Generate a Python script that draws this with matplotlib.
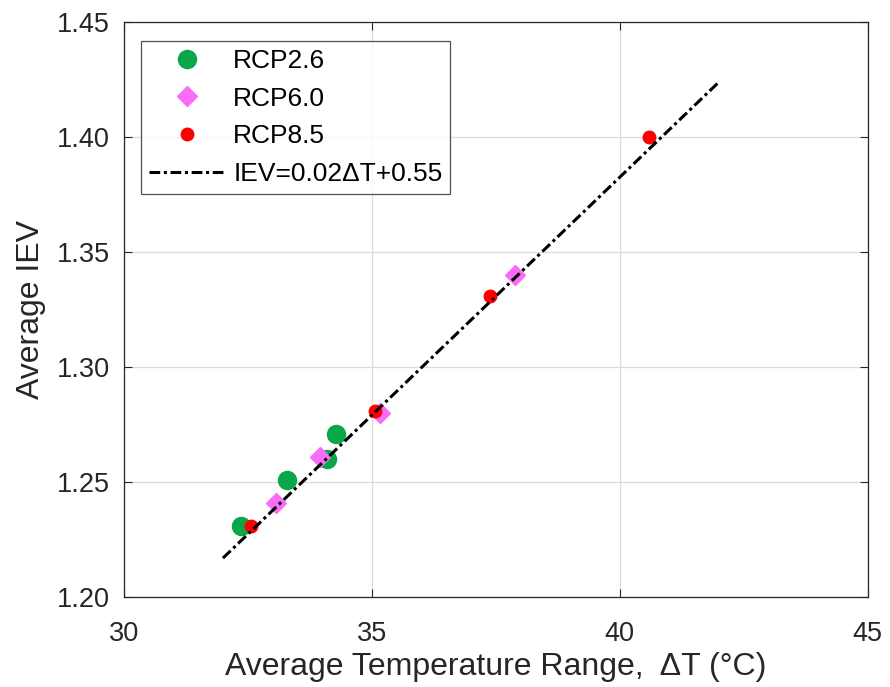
import matplotlib
matplotlib.use("Agg")
import matplotlib.pyplot as plt
import numpy as np

plt.rcParams['font.family'] = ['Liberation Sans', 'DejaVu Sans']

rcp26_x = [32.37, 33.29, 34.09, 34.27]
rcp26_y = [1.231, 1.251, 1.260, 1.271]
rcp60_x = [33.07, 33.96, 35.16, 37.88]
rcp60_y = [1.241, 1.261, 1.280, 1.340]
rcp85_x = [32.57, 35.07, 37.38, 40.59]
rcp85_y = [1.231, 1.281, 1.331, 1.400]
fit_x = [32.0, 42.0]
fit_slope = 0.0207
fit_intercept = 0.5545
xticks = [30, 35, 40, 45]
yticks = [1.20, 1.25, 1.30, 1.35, 1.40, 1.45]

fig = plt.figure(figsize=(8.9, 6.87), dpi=100)
ax = fig.add_axes([0.139, 0.131, 0.836, 0.837])

ax.plot(rcp26_x, rcp26_y, 'o', color='#0aa64a', markersize=13, linestyle='none', label='RCP2.6', zorder=3)
ax.plot(rcp60_x, rcp60_y, 'D', color='#f86cf8', markersize=10.5, linestyle='none', label='RCP6.0', zorder=3)
ax.plot(rcp85_x, rcp85_y, 'o', color='#ff0000', markersize=9, linestyle='none', label='RCP8.5', zorder=3)
fx = np.array(fit_x)
ax.plot(fx, fit_slope * fx + fit_intercept, color='black', linestyle=(0, (3.5, 1.2, 1, 1.2)),
        linewidth=2.2, label='IEV=0.02\u0394T+0.55', zorder=4)

ax.set_xlim(30, 45)
ax.set_ylim(1.20, 1.45)
ax.set_xticks(xticks)
ax.set_yticks(yticks)
ax.set_yticklabels([f'{v:.2f}' for v in yticks])
ax.grid(True, color='#dcdcdc', linewidth=0.9)
ax.set_axisbelow(True)
ax.tick_params(direction='in', top=True, right=True, labelsize=19.5, length=6, color='#262626',
               labelcolor='#262626')
ax.tick_params(axis='x', pad=17)
ax.tick_params(axis='y', pad=10)
for s in ax.spines.values():
    s.set_color('#262626')
    s.set_linewidth(0.9)
ax.set_xlabel('Average Temperature Range,  \u0394T (\u00b0C)', fontsize=23, color='#262626', labelpad=4)
ax.set_ylabel('Average IEV', fontsize=23, color='#262626', labelpad=8)

leg = ax.legend(loc='upper left', fontsize=19, frameon=True, fancybox=False,
                edgecolor='#262626', borderpad=0.3, handlelength=2.9, handletextpad=0.3,
                bbox_to_anchor=(0.023, 0.967), labelspacing=0.52, borderaxespad=0)
leg.get_frame().set_linewidth(0.9)

fig.savefig('out.png', dpi=100, facecolor='white')
